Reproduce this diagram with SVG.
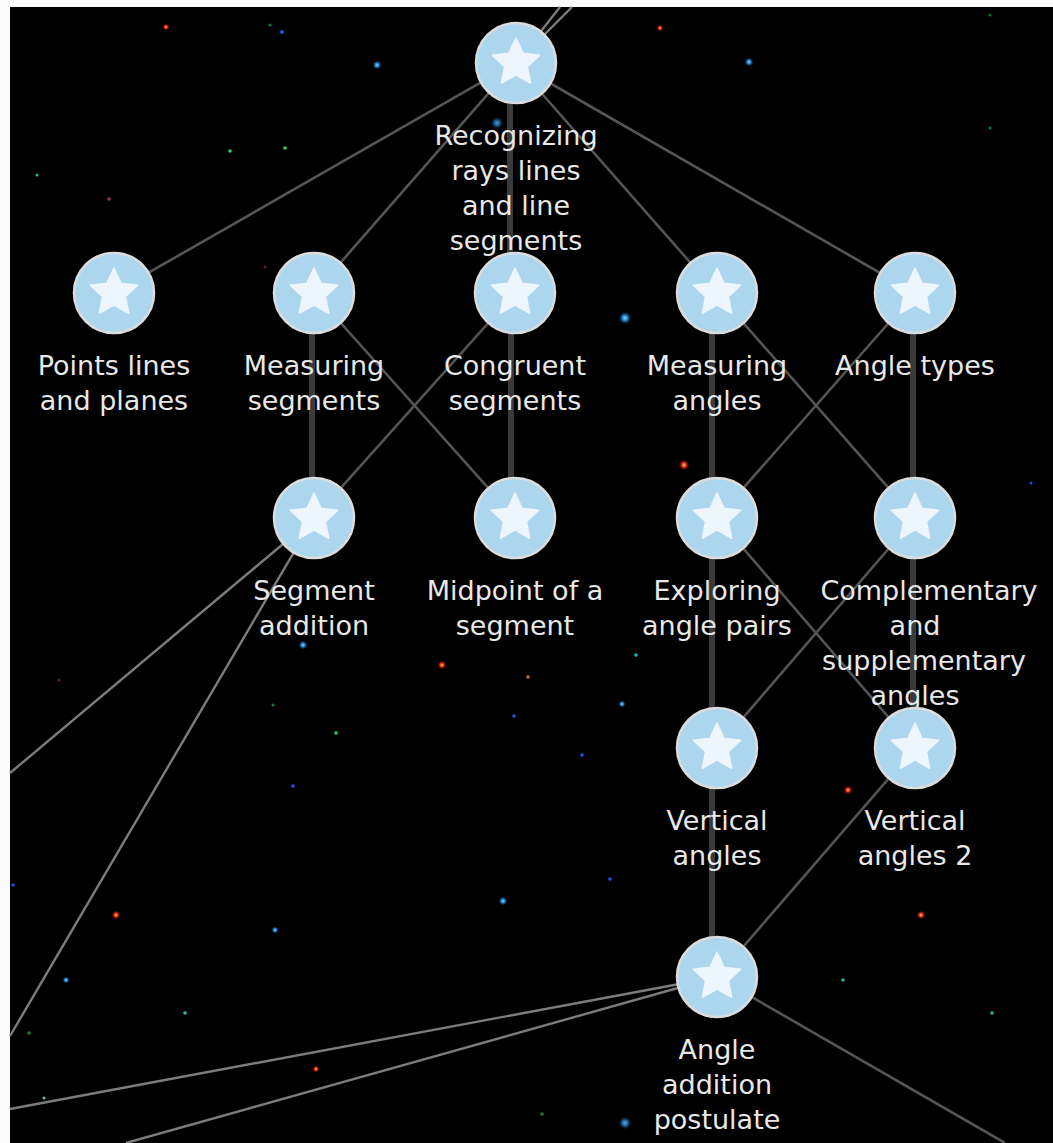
<svg xmlns="http://www.w3.org/2000/svg" xmlns:xlink="http://www.w3.org/1999/xlink" width="1053" height="1143" viewBox="0 0 1053 1143">
<style>
.lbl{font-family:"DejaVu Sans","Liberation Sans",sans-serif;font-size:27px;fill:#e8e8e8;text-anchor:middle}
.v{stroke:#3a3a3a;stroke-width:6;fill:none}
.d{stroke:#555;stroke-width:2.6;fill:none}
.o{stroke:#7c7c7c;stroke-width:2.4;fill:none}
.ring{fill:#acd5ee;stroke:#dcdcdc;stroke-width:2.5}
.star{fill:#eef6fd;stroke:#eef6fd;stroke-width:1.5;stroke-linejoin:round}
</style>
<defs>
<g id="nd">
<circle class="ring" r="40"/>
<path class="star" d="M0,-25 L7.05,-9.71 L23.78,-7.73 L11.41,3.71 L14.69,20.23 L0,12 L-14.69,20.23 L-11.41,3.71 L-23.78,-7.73 L-7.05,-9.71 Z"/>
</g>
<radialGradient id="glowB"><stop offset="0" stop-color="#7fd8ff"/><stop offset="0.4" stop-color="#1f7fd0"/><stop offset="1" stop-color="#000" stop-opacity="0"/></radialGradient>
<radialGradient id="glowR"><stop offset="0" stop-color="#ffd060"/><stop offset="0.4" stop-color="#e02010"/><stop offset="1" stop-color="#000" stop-opacity="0"/></radialGradient>
</defs>
<rect width="1053" height="1143" fill="#fbfbfb"/>
<rect x="10" y="7" width="1043" height="1136" fill="#000"/>
<g id="stars">
<circle cx="377" cy="65" r="5" fill="url(#glowB)"/>
<circle cx="749" cy="62" r="5" fill="url(#glowB)"/>
<circle cx="625" cy="318" r="7" fill="url(#glowB)"/>
<circle cx="497" cy="123" r="7" fill="url(#glowB)" opacity="0.7"/>
<circle cx="303" cy="645" r="5" fill="url(#glowB)"/>
<circle cx="503" cy="901" r="5" fill="url(#glowB)"/>
<circle cx="275" cy="930" r="4" fill="url(#glowB)"/>
<circle cx="66" cy="980" r="4" fill="url(#glowB)"/>
<circle cx="625" cy="1123" r="7" fill="url(#glowB)" opacity="0.8"/>
<circle cx="622" cy="704" r="4" fill="url(#glowB)"/>
<circle cx="166" cy="27" r="4" fill="url(#glowR)"/>
<circle cx="660" cy="28" r="4" fill="url(#glowR)"/>
<circle cx="684" cy="465" r="6" fill="url(#glowR)"/>
<circle cx="442" cy="665" r="5" fill="url(#glowR)"/>
<circle cx="848" cy="790" r="5" fill="url(#glowR)"/>
<circle cx="116" cy="915" r="5" fill="url(#glowR)"/>
<circle cx="921" cy="915" r="5" fill="url(#glowR)"/>
<circle cx="316" cy="1069" r="4" fill="url(#glowR)"/>
<g fill="#2fd060">
<circle cx="230" cy="151" r="1.8"/>
<circle cx="285" cy="148" r="1.8"/>
<circle cx="37" cy="175" r="1.5" fill="#2fb0a0"/>
<circle cx="270" cy="25" r="1.5" fill="#1a7a40"/>
<circle cx="336" cy="733" r="1.8"/>
<circle cx="273" cy="705" r="1.5" fill="#1a7a40"/>
<circle cx="843" cy="980" r="1.8" fill="#2fb0a0"/>
<circle cx="185" cy="1013" r="1.8" fill="#2fb0a0"/>
<circle cx="992" cy="1013" r="1.8" fill="#2fb0a0"/>
<circle cx="29" cy="1033" r="1.8" fill="#1a7a40"/>
<circle cx="542" cy="1114" r="1.8" fill="#1a7a40"/>
<circle cx="44" cy="1098" r="1.5" fill="#60c0a0"/>
<circle cx="636" cy="655" r="1.8" fill="#20b0c0"/>
<circle cx="990" cy="128" r="1.5" fill="#1a7a40"/>
<circle cx="990" cy="15" r="1.5" fill="#1a6a30"/>
</g>
<g fill="#2050e0">
<circle cx="282" cy="32" r="2"/>
<circle cx="514" cy="716" r="1.8"/>
<circle cx="582" cy="755" r="1.8"/>
<circle cx="293" cy="786" r="1.8"/>
<circle cx="610" cy="879" r="1.8"/>
<circle cx="13" cy="885" r="1.8"/>
<circle cx="1031" cy="483" r="1.5"/>
</g>
<circle cx="109" cy="199" r="1.8" fill="#a03050"/>
<circle cx="528" cy="677" r="1.8" fill="#c07020"/>
<circle cx="265" cy="267" r="1.5" fill="#702020"/>
<circle cx="59" cy="680" r="1.5" fill="#602020"/>
</g>
<g id="connectors">
<line class="o" x1="516" y1="63" x2="560" y2="7"/>
<line class="o" x1="516" y1="63" x2="572" y2="7"/>
<line class="d" x1="515" y1="63" x2="113" y2="293"/>
<line class="d" x1="515" y1="63" x2="314" y2="293"/>
<line class="v" x1="510" y1="63" x2="510" y2="293"/>
<line class="d" x1="515" y1="63" x2="717" y2="293"/>
<line class="d" x1="515" y1="63" x2="915" y2="293"/>
<line class="v" x1="312" y1="293" x2="312" y2="518"/>
<line class="d" x1="314" y1="293" x2="515" y2="518"/>
<line class="d" x1="515" y1="293" x2="314" y2="518"/>
<line class="v" x1="511" y1="293" x2="511" y2="518"/>
<line class="v" x1="712" y1="293" x2="712" y2="518"/>
<line class="d" x1="717" y1="293" x2="915" y2="518"/>
<line class="d" x1="915" y1="293" x2="717" y2="518"/>
<line class="v" x1="913" y1="293" x2="913" y2="518"/>
<line class="v" x1="712" y1="518" x2="712" y2="748"/>
<line class="d" x1="717" y1="518" x2="915" y2="748"/>
<line class="d" x1="915" y1="518" x2="717" y2="748"/>
<line class="v" x1="913" y1="518" x2="913" y2="748"/>
<line class="v" x1="712" y1="748" x2="712" y2="977"/>
<line class="d" x1="915" y1="748" x2="717" y2="977"/>
<line class="o" x1="314" y1="518" x2="10" y2="773"/>
<line class="o" x1="314" y1="518" x2="10" y2="1036"/>
<line class="o" x1="717" y1="977" x2="10" y2="1109"/>
<line class="o" x1="717" y1="977" x2="126" y2="1143"/>
<line class="d" x1="717" y1="977" x2="1005" y2="1143"/>
</g>
<g id="n-recognizing"><use xlink:href="#nd" x="516" y="63"/><text class="lbl"><tspan x="516" y="145">Recognizing</tspan><tspan x="516" y="180">rays lines</tspan><tspan x="516" y="215">and line</tspan><tspan x="516" y="250">segments</tspan></text></g>
<g id="n-points"><use xlink:href="#nd" x="114" y="293"/><text class="lbl"><tspan x="114" y="375">Points lines</tspan><tspan x="114" y="410">and planes</tspan></text></g>
<g id="n-measuring-segments"><use xlink:href="#nd" x="314" y="293"/><text class="lbl"><tspan x="314" y="375">Measuring</tspan><tspan x="314" y="410">segments</tspan></text></g>
<g id="n-congruent"><use xlink:href="#nd" x="515" y="293"/><text class="lbl"><tspan x="515" y="375">Congruent</tspan><tspan x="515" y="410">segments</tspan></text></g>
<g id="n-measuring-angles"><use xlink:href="#nd" x="717" y="293"/><text class="lbl"><tspan x="717" y="375">Measuring</tspan><tspan x="717" y="410">angles</tspan></text></g>
<g id="n-angle-types"><use xlink:href="#nd" x="915" y="293"/><text class="lbl"><tspan x="915" y="375">Angle types</tspan></text></g>
<g id="n-segment-addition"><use xlink:href="#nd" x="314" y="518"/><text class="lbl"><tspan x="314" y="600">Segment</tspan><tspan x="314" y="635">addition</tspan></text></g>
<g id="n-midpoint"><use xlink:href="#nd" x="515" y="518"/><text class="lbl"><tspan x="515" y="600">Midpoint of a</tspan><tspan x="515" y="635">segment</tspan></text></g>
<g id="n-exploring"><use xlink:href="#nd" x="717" y="518"/><text class="lbl"><tspan x="717" y="600">Exploring</tspan><tspan x="717" y="635">angle pairs</tspan></text></g>
<g id="n-complementary"><use xlink:href="#nd" x="915" y="518"/><text class="lbl"><tspan x="929" y="600">Complementary</tspan><tspan x="915" y="635">and</tspan><tspan x="924" y="670">supplementary</tspan><tspan x="915" y="705">angles</tspan></text></g>
<g id="n-vertical"><use xlink:href="#nd" x="717" y="748"/><text class="lbl"><tspan x="717" y="830">Vertical</tspan><tspan x="717" y="865">angles</tspan></text></g>
<g id="n-vertical2"><use xlink:href="#nd" x="915" y="748"/><text class="lbl"><tspan x="915" y="830">Vertical</tspan><tspan x="915" y="865">angles 2</tspan></text></g>
<g id="n-angle-addition"><use xlink:href="#nd" x="717" y="977"/><text class="lbl"><tspan x="717" y="1059">Angle</tspan><tspan x="717" y="1094">addition</tspan><tspan x="717" y="1129">postulate</tspan></text></g>
</svg>
